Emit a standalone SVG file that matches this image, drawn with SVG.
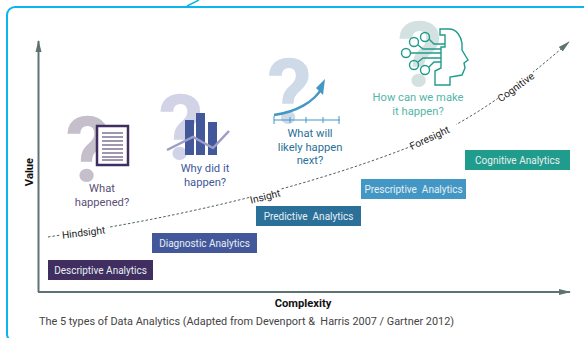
<svg xmlns="http://www.w3.org/2000/svg" width="584" height="338" viewBox="0 0 584 338">
<style>
text{font-family:Roboto,"Liberation Sans",sans-serif;white-space:pre}
.box{font-size:10px;fill:#e8eef4;text-anchor:middle}
.q{font-size:11.200px;text-anchor:middle}
.big{font-size:90px;font-weight:700;text-anchor:middle}
.lab{font-size:10.200px;fill:#222;text-anchor:middle}
.ax{font-size:11.200px;font-weight:700;fill:#111;text-anchor:middle}
.t{fill:none;stroke:#209c8c;stroke-width:1.400}
</style>
<defs>
<marker id="ah" markerUnits="userSpaceOnUse" markerWidth="12" markerHeight="8" refX="11" refY="4" orient="auto"><path d="M0 1L12 4L0 7Z" fill="#5f7272"/></marker>
</defs>
<rect width="584" height="338" fill="#fff"/>
<rect x="7" y="7" width="620" height="335" rx="8" fill="none" stroke="#0cb4ef" stroke-width="2"/>
<path d="M187 6L199 0" fill="none" stroke="#0cb4ef" stroke-width="1.500"/>
<g id="connectors">
<path d="M38.500 292V41" fill="none" stroke="#5f7272" stroke-width="2" marker-end="url(#ah)"/>
<path d="M38 292H570" fill="none" stroke="#5f7272" stroke-width="2" marker-end="url(#ah)"/>
<path d="M48 237C170 219 300 190 412 146C470 122 520 85 569 42" fill="none" stroke="#4f6060" stroke-width="1" stroke-dasharray="2.500 2" marker-end="url(#ah)"/>
</g>
<g id="axis-value"><text class="ax" transform="translate(33 172) rotate(-90)">Value</text></g>
<g id="axis-complexity"><text class="ax" x="303" y="307">Complexity</text></g>
<g id="caption"><text x="39" y="325" font-size="10.900" fill="#444">The 5 types of Data Analytics (Adapted from Devenport &amp;  Harris 2007 / Gartner 2012)</text></g>
<g id="label-hindsight"><rect x="60" y="222" width="48" height="16" fill="#fff" transform="rotate(-7 84 230)"/><text class="lab" transform="translate(84 236) rotate(-7)">Hindsight</text></g>
<g id="label-insight"><rect x="250" y="188" width="32" height="15" fill="#fff" transform="rotate(-14 266 196)"/><text class="lab" transform="translate(266 200) rotate(-14)">Insight</text></g>
<g id="label-foresight"><rect x="409" y="129" width="50" height="15" fill="#fff" transform="rotate(-25 430 137)"/><text class="lab" transform="translate(431 141) rotate(-25)">Foresight</text></g>
<g id="label-cognitive"><rect x="495" y="80" width="44" height="15" fill="#fff" transform="rotate(-36 516 88)"/><text class="lab" transform="translate(518 90) rotate(-36)">Cognitive</text></g>
<g id="descriptive"><rect x="48" y="260" width="105" height="20" fill="#3f2e5f"/><text class="box" x="100.500" y="274">Descriptive Analytics</text></g>
<g id="diagnostic"><rect x="152" y="233" width="105" height="20" fill="#42589a"/><text class="box" x="204.500" y="247">Diagnostic Analytics</text></g>
<g id="predictive"><rect x="256" y="206" width="105" height="20" fill="#2a7099"/><text class="box" x="308.500" y="220">Predictive  Analytics</text></g>
<g id="prescriptive"><rect x="361" y="179" width="105" height="20" fill="#4397c5"/><text class="box" x="413.500" y="193">Prescriptive  Analytics</text></g>
<g id="cognitive"><rect x="465" y="150" width="105" height="20" fill="#209c8c"/><text class="box" x="517.500" y="164">Cognitive Analytics</text></g>
<g id="q-what">
<text class="big" x="88" y="181" fill="#c5bfcc">?</text>
<rect x="97" y="126" width="31" height="39" fill="#fff" stroke="#3f2e5f" stroke-width="2.500"/>
<path d="M102 133H123M102 137H123M102 141H123M102 145H123M102 149H123M102 153H123M102 157H123M102 160H123" stroke="#3f2e5f" stroke-width="1"/>
<text class="q" fill="#5c4f78" x="102" y="192">What</text><text class="q" fill="#5c4f78" x="102" y="206">happened?</text>
</g>
<g id="q-why">
<text class="big" x="181" y="159" fill="#d3d3e8">?</text>
<path d="M185 120H194V155H185ZM196 113H205V155H196ZM208 122H217V155H208Z" fill="#42589a"/>
<path d="M167 150L193 137L213 148L229 131" fill="none" stroke="#9c9cc8" stroke-width="2.500"/>
<text class="q" fill="#42589a" x="205" y="172">Why did it</text><text class="q" fill="#42589a" x="205" y="186">happen?</text>
</g>
<g id="q-next">
<text class="big" x="289.500" y="123" fill="#cfdae8">?</text>
<path d="M274 115C296 112 314 102 322 88" fill="none" stroke="#4397c5" stroke-width="2.500"/>
<path d="M325 79L323 95L316 88Z" fill="#4397c5"/>
<path d="M274 120H340M274 116V124M290 117V123M306 117V123M323 117V123M339 116V124" fill="none" stroke="#4397c5" stroke-width="1"/>
<text class="q" fill="#2a7099" x="310" y="137">What will</text><text class="q" fill="#2a7099" x="310" y="151">likely happen</text><text class="q" fill="#2a7099" x="310" y="164">next?</text>
</g>
<g id="q-how">
<text class="big" x="420" y="86" fill="#d3e2e0">?</text>
<path class="t" d="M440 29H449C457 29 461 37 462 43L462 50L468 60L464 63L465 68L462 75L450 77V85H435V71L441 68V47H445V35H440Z"/>
<g class="t"><circle cx="425" cy="37" r="4.500"/><circle cx="414" cy="42" r="4.500"/><circle cx="406" cy="53" r="4.500"/><circle cx="414" cy="65" r="4.500"/><circle cx="425" cy="70" r="4.500"/>
<path d="M429 39L434 44H445M418 45L423 49H441M411 53H441M418 62L423 58H441M429 67L434 62H441"/></g>
<text class="q" fill="#55b5a8" x="418" y="101">How can we make</text><text class="q" fill="#55b5a8" x="418" y="115">it happen?</text>
</g>
</svg>
